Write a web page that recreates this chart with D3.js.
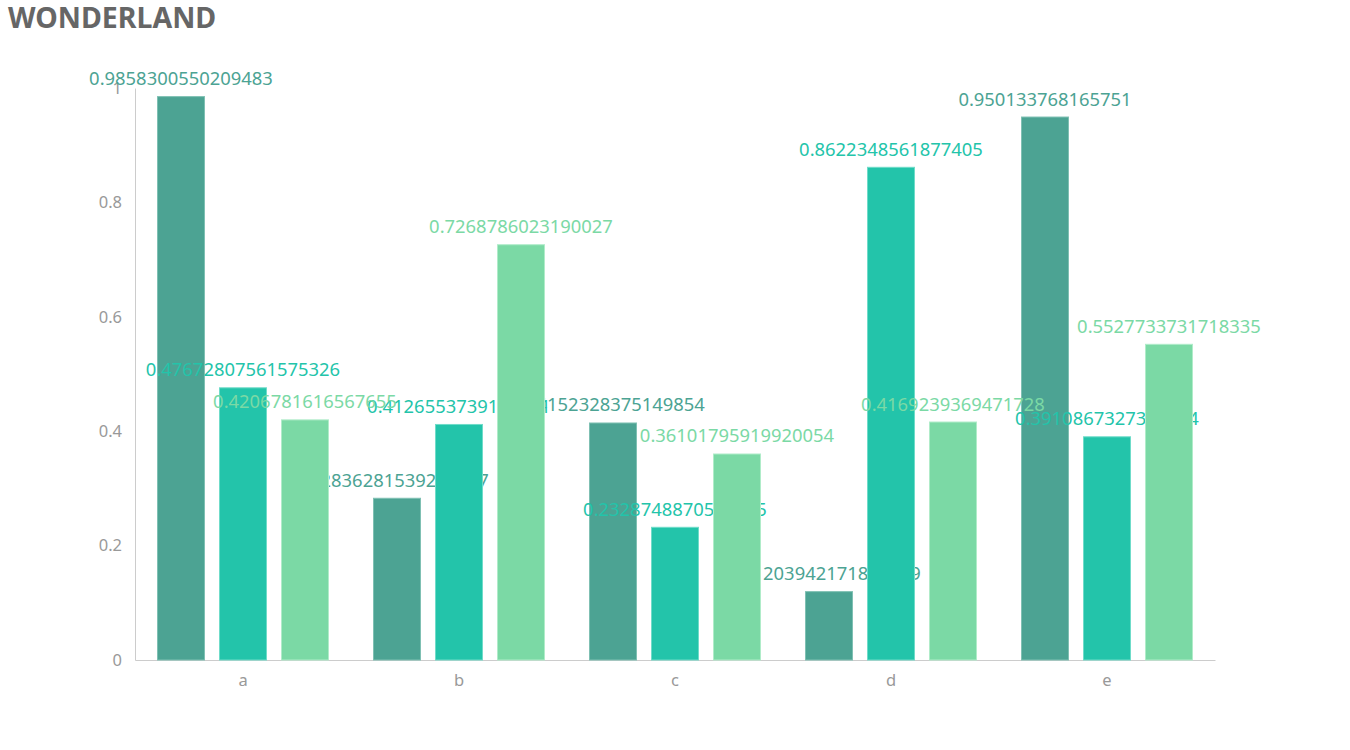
<!DOCTYPE html>
<html>
<head>
<meta charset="utf-8">
<script src="https://cdn.jsdelivr.net/npm/d3@7"></script>
<style>
  html, body { margin: 0; padding: 0; background: #fff; }
  svg { display: block; font-family: 'Noto Sans', sans-serif; }
</style>
</head>
<body>
<svg id="chart" width="1350" height="750"></svg>
<script>
const CATEGORIES = ['a', 'b', 'c', 'd', 'e'];
const SERIES1 = [0.9858300550209483, 0.2836281539241377, 0.4152328375149854, 0.1203942171865389, 0.950133768165751];
const SERIES2 = [0.47672807561575326, 0.4126553739124561, 0.2328748870517125, 0.8622348561877405, 0.3910867327334214];
const SERIES3 = [0.4206781616567655, 0.7268786023190027, 0.36101795919920054, 0.4169239369471728, 0.5527733731718335];
const Y_TICKS = [0, 0.2, 0.4, 0.6, 0.8, 1];

const SERIES = [
  { vals: SERIES1, c: '#4ca393', s: '#7fc0b3' },
  { vals: SERIES2, c: '#23c4aa', s: '#6fdcc9' },
  { vals: SERIES3, c: '#7bd9a5', s: '#b0ecc9' },
];

const svg = d3.select('#chart');
const L = 135, R = 1215, T = 88, B = 660;

svg.append('text')
  .attr('x', 8).attr('y', 28)
  .attr('font-size', '28.5px').attr('font-weight', 'bold')
  .attr('fill', '#666').text('WONDERLAND');

const x = d3.scaleBand().domain(CATEGORIES).range([L, R]);
const y = d3.scaleLinear().domain([0, 1]).range([B, T]);
const barW = 48, gap = 14;
const groupW = barW * 3 + gap * 2;

// y axis
const gy = svg.append('g').attr('transform', `translate(${L},0)`)
  .call(d3.axisLeft(y).tickValues(Y_TICKS).tickSize(0).tickPadding(13).tickFormat(d3.format('')));
gy.select('.domain').attr('stroke', '#ccc');
gy.selectAll('text').attr('font-size', '16.5px').attr('fill', '#999').attr('font-family', 'Noto Sans, sans-serif');

// x axis
const gx = svg.append('g').attr('transform', `translate(0,${B})`)
  .call(d3.axisBottom(x).tickSize(0).tickPadding(14));
gx.select('.domain').attr('stroke', '#ccc');
gx.selectAll('text').attr('font-size', '16.5px').attr('fill', '#999').attr('font-family', 'Noto Sans, sans-serif');

SERIES.forEach((s, i) => {
  const g = svg.append('g');
  const bx = c => x(c) + (x.bandwidth() - groupW) / 2 + i * (barW + gap);
  g.selectAll('rect').data(CATEGORIES).join('rect')
    .attr('x', c => bx(c) + 0.5).attr('width', barW - 1)
    .attr('y', (c, k) => y(s.vals[k]) + 0.5)
    .attr('height', (c, k) => B - y(s.vals[k]) - 0.5)
    .attr('fill', s.c).attr('stroke', s.s).attr('stroke-width', 1);
  g.selectAll('text').data(CATEGORIES).join('text')
    .attr('x', c => bx(c) + barW / 2)
    .attr('y', (c, k) => y(s.vals[k]) - 11)
    .attr('text-anchor', 'middle')
    .attr('font-size', '18.4px').attr('fill', s.c)
    .text((c, k) => String(s.vals[k]));
});
</script>
</body>
</html>
